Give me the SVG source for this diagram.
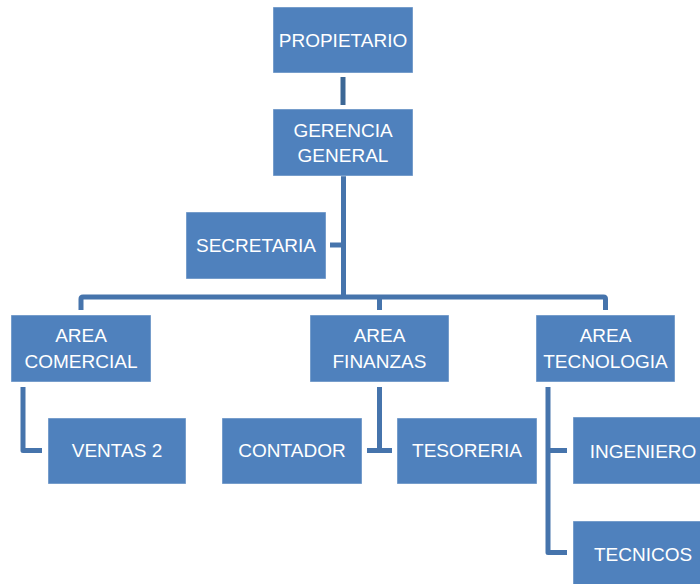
<svg xmlns="http://www.w3.org/2000/svg" width="700" height="584" viewBox="0 0 700 584">
<style>
.box{fill:#4F81BD;stroke:#ffffff;stroke-opacity:0.45;stroke-width:1}
.t{font-family:"Liberation Sans",Arial,sans-serif;font-size:19px;fill:#ffffff;text-anchor:middle}
.c{fill:none;stroke:#4674AC;stroke-width:5;stroke-linejoin:round}
</style>
<rect width="700" height="584" fill="#ffffff"/>
<g id="connectors">
<path class="c" d="M343 77V105" style="stroke:#3C6795"/>
<path class="c" d="M343.5 176V297"/>
<path class="c" d="M330 245H343.5"/>
<path class="c" d="M81 310V299Q81 297 83 297H603.5Q605.5 297 605.5 299V310"/>
<path class="c" d="M379.5 297V310"/>
<path class="c" d="M23 387V450.5H42"/>
<path class="c" d="M379.5 387V450.5M367 450.5H392"/>
<path class="c" d="M548 387V552.5H567M548 450.5H567"/>
</g>
<g id="propietario"><rect class="box" x="273" y="7" width="140" height="66"/><text class="t" x="343" y="47">PROPIETARIO</text></g>
<g id="gerencia"><rect class="box" x="273" y="109" width="140" height="67"/><text class="t" x="343" y="137">GERENCIA</text><text class="t" x="343" y="162">GENERAL</text></g>
<g id="secretaria"><rect class="box" x="186" y="212" width="140" height="67"/><text class="t" x="256" y="252">SECRETARIA</text></g>
<g id="comercial"><rect class="box" x="11" y="315" width="140" height="67"/><text class="t" x="81" y="342">AREA</text><text class="t" x="81" y="368">COMERCIAL</text></g>
<g id="finanzas"><rect class="box" x="310" y="315" width="139" height="67"/><text class="t" x="379.5" y="342">AREA</text><text class="t" x="379.5" y="368">FINANZAS</text></g>
<g id="tecnologia"><rect class="box" x="536" y="315" width="139" height="67"/><text class="t" x="605.5" y="342">AREA</text><text class="t" x="605.5" y="368">TECNOLOGIA</text></g>
<g id="ventas"><rect class="box" x="48" y="418" width="138" height="66"/><text class="t" x="117" y="457">VENTAS 2</text></g>
<g id="contador"><rect class="box" x="222" y="418" width="140" height="66"/><text class="t" x="292" y="457">CONTADOR</text></g>
<g id="tesoreria"><rect class="box" x="397" y="418" width="140" height="66"/><text class="t" x="467" y="457">TESORERIA</text></g>
<g id="ingeniero"><rect class="box" x="573" y="417" width="140" height="67"/><text class="t" x="643" y="458">INGENIERO</text></g>
<g id="tecnicos"><rect class="box" x="573" y="521" width="140" height="67"/><text class="t" x="643" y="561">TECNICOS</text></g>
</svg>
